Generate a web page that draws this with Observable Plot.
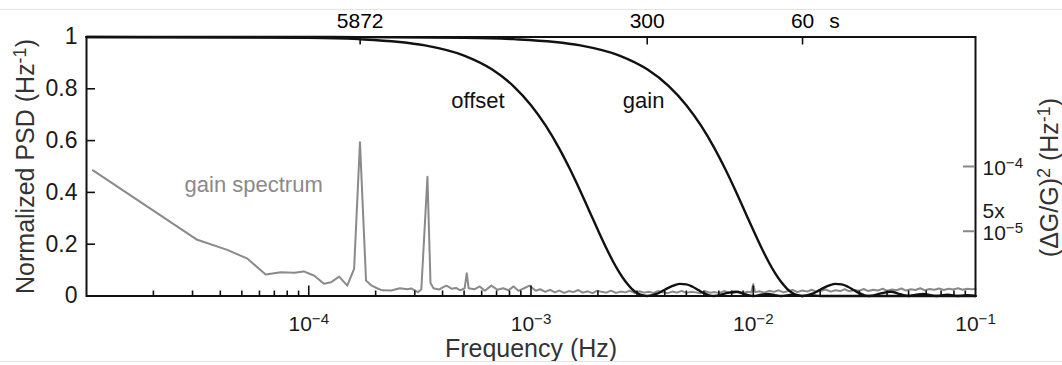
<!DOCTYPE html>
<html><head><meta charset="utf-8">
<script src="https://cdn.jsdelivr.net/npm/d3@7"></script>
<script src="https://cdn.jsdelivr.net/npm/@observablehq/plot@0.6"></script>
<style>
html,body{margin:0;padding:0;background:#fff;}
#wrap{position:relative;width:1062px;height:365px;overflow:hidden;}
#wrap .edge{position:absolute;left:0;width:1062px;height:1px;background:#e4e4e4;}
</style></head><body><div id="wrap"><div id="chart"></div><div class="edge" style="top:9px"></div><div class="edge" style="top:361px"></div></div>
<script>
// ---------- data ----------
// offset window response (300 s)
const offsetFreq = [1e-5, 1e-4, 1.667e-4, 3.333e-4, 5e-4, 6.667e-4, 8.333e-4, 1e-3, 1.1667e-3, 1.3333e-3,
  1.5e-3, 1.6667e-3, 1.8333e-3, 2e-3, 2.1667e-3, 2.3333e-3, 2.5e-3, 2.6667e-3, 2.8333e-3, 3e-3,
  3.1667e-3, 3.3333e-3, 3.6667e-3, 4e-3, 4.3333e-3, 4.6667e-3, 5e-3, 5.3333e-3, 5.6667e-3, 6e-3,
  6.3333e-3, 6.6667e-3, 7.5e-3, 8.3333e-3, 9.1667e-3, 1e-2, 1.0833e-2, 1.1667e-2, 1.25e-2, 1.3333e-2,
  1.5e-2, 1.6667e-2, 1.8333e-2, 2e-2, 1e-1];
const offsetPsd = [1, 0.997, 0.9918, 0.9675, 0.9282, 0.8751, 0.8106, 0.7368, 0.6566, 0.5728,
  0.4881, 0.4053, 0.3267, 0.2546, 0.1904, 0.1353, 0.0901, 0.0547, 0.0289, 0.0119,
  0.0028, 0, 0.0080, 0.0243, 0.0392, 0.0468, 0.0450, 0.0358, 0.0230, 0.0108,
  0.0027, 0, 0.0100, 0.0162, 0.0067, 0, 0.0048, 0.0083, 0.0036, 0,
  0.0050, 0, 0.0033, 0, 0];

// gain window response (60 s)
const gainFreq = [1e-5, 1e-4, 1.667e-4, 5e-4, 8.333e-4, 1.6667e-3, 2.5e-3, 3.3333e-3, 4.1667e-3, 5e-3,
  5.8333e-3, 6.6667e-3, 7.5e-3, 8.3333e-3, 9.1667e-3, 1e-2, 1.0833e-2, 1.1667e-2, 1.25e-2, 1.3333e-2,
  1.4167e-2, 1.5e-2, 1.5833e-2, 1.6667e-2, 1.8333e-2, 2e-2, 2.1667e-2, 2.3333e-2, 2.5e-2, 2.6667e-2,
  2.8333e-2, 3e-2, 3.1667e-2, 3.3333e-2, 3.75e-2, 4.1667e-2, 4.5833e-2, 5e-2, 5.4167e-2, 5.8333e-2,
  6.25e-2, 6.6667e-2, 7.5e-2, 8.3333e-2, 9.1667e-2, 1e-1];
const gainPsd = [1, 1, 0.9997, 0.997, 0.9918, 0.9675, 0.9282, 0.8751, 0.8106, 0.7368,
  0.6566, 0.5728, 0.4881, 0.4053, 0.3267, 0.2546, 0.1904, 0.1353, 0.0901, 0.0547,
  0.0289, 0.0119, 0.0028, 0, 0.0080, 0.0243, 0.0392, 0.0468, 0.0450, 0.0358,
  0.0230, 0.0108, 0.0027, 0, 0.0100, 0.0162, 0.0067, 0, 0.0048, 0.0083,
  0.0036, 0, 0.0050, 0, 0.0033, 0];

// measured gain spectrum (normalized units, right axis = x 2e-4)
const specFreq = [
  1.07e-5, 3.15e-5, 4.3e-5, 5.3e-5, 6.4e-5, 7.5e-5, 8.6e-5, 9.5e-5, 1.06e-4, 1.17e-4,
  1.26e-4, 1.37e-4, 1.49e-4, 1.60e-4, 1.70e-4, 1.81e-4, 1.92e-4, 2.03e-4, 2.14e-4, 2.35e-4,
  2.57e-4, 2.78e-4, 2.89e-4, 3.10e-4, 3.21e-4, 3.42e-4, 3.53e-4, 3.64e-4, 3.85e-4, 4.07e-4,
  4.17e-4, 4.39e-4, 4.60e-4, 4.81e-4, 5.03e-4, 5.14e-4, 5.24e-4, 5.56e-4, 5.88e-4, 6.20e-4,
  6.63e-4, 7.06e-4, 7.49e-4, 7.92e-4, 8.35e-4, 8.78e-4, 9.31e-4, 9.85e-4, 1.05e-3, 1.10e-3,
  1.16e-3, 1.22e-3, 1.28e-3, 1.34e-3, 1.41e-3, 1.48e-3, 1.55e-3, 1.63e-3, 1.71e-3, 1.8e-3,
  1.89e-3, 1.98e-3, 2.08e-3, 2.18e-3, 2.29e-3, 2.41e-3, 2.53e-3, 2.65e-3, 2.79e-3, 2.93e-3,
  3.07e-3, 3.23e-3, 3.39e-3, 3.56e-3, 3.73e-3, 3.92e-3, 4.12e-3, 4.32e-3, 4.54e-3, 4.76e-3,
  5.0e-3, 5.25e-3, 5.52e-3, 5.79e-3, 6.08e-3, 6.39e-3, 6.7e-3, 7.04e-3, 7.39e-3, 7.76e-3,
  8.15e-3, 8.56e-3, 8.99e-3, 9.44e-3, 9.8e-3,
  1.0e-2,
  1.02e-2, 1.07e-2, 1.12e-2, 1.18e-2, 1.24e-2, 1.30e-2, 1.37e-2, 1.44e-2, 1.51e-2, 1.58e-2,
  1.66e-2, 1.75e-2, 1.83e-2, 1.93e-2, 2.02e-2, 2.12e-2, 2.23e-2, 2.34e-2, 2.46e-2, 2.58e-2,
  2.71e-2, 2.85e-2, 2.99e-2, 3.14e-2, 3.30e-2, 3.46e-2, 3.64e-2, 3.82e-2, 4.01e-2, 4.21e-2,
  4.42e-2, 4.64e-2, 4.87e-2, 5.12e-2, 5.37e-2, 5.64e-2, 5.92e-2, 6.22e-2, 6.53e-2, 6.86e-2,
  7.20e-2, 7.56e-2, 7.94e-2, 8.34e-2, 8.75e-2, 9.19e-2, 9.65e-2, 1e-1];
const specPsd = [
  0.485, 0.217, 0.178, 0.144, 0.083, 0.092, 0.090, 0.095, 0.078, 0.047,
  0.053, 0.075, 0.040, 0.105, 0.594, 0.060, 0.040, 0.030, 0.022, 0.021,
  0.030, 0.026, 0.029, 0.015, 0.025, 0.460, 0.050, 0.030, 0.025, 0.036,
  0.040, 0.028, 0.031, 0.022, 0.030, 0.088, 0.030, 0.026, 0.037, 0.020,
  0.040, 0.024, 0.030, 0.022, 0.037, 0.020, 0.030, 0.040, 0.020, 0.026,
  0.016, 0.024, 0.014, 0.021, 0.012, 0.019, 0.015, 0.023, 0.013, 0.018,
  0.011, 0.020, 0.016, 0.013, 0.021, 0.012, 0.017, 0.014, 0.020, 0.011,
  0.018, 0.013, 0.016, 0.012, 0.019, 0.014, 0.011, 0.017, 0.013, 0.020,
  0.012, 0.016, 0.014, 0.011, 0.018, 0.013, 0.015, 0.012, 0.019, 0.014,
  0.011, 0.017, 0.013, 0.016, 0.014,
  0.045,
  0.015, 0.018, 0.013, 0.020, 0.016, 0.022, 0.014, 0.019, 0.023, 0.015,
  0.021, 0.017, 0.024, 0.016, 0.020, 0.025, 0.017, 0.022, 0.019, 0.026,
  0.018, 0.023, 0.020, 0.027, 0.019, 0.024, 0.021, 0.028, 0.020, 0.025,
  0.022, 0.029, 0.021, 0.026, 0.023, 0.030, 0.022, 0.027, 0.024, 0.029,
  0.023, 0.028, 0.025, 0.030, 0.024, 0.028, 0.026, 0.027];

// axes
const leftTicks = [0, 0.2, 0.4, 0.6, 0.8, 1];
const leftTickLabels = ["0", "0.2", "0.4", "0.6", "0.8", "1"];
const bottomDecades = [1e-5, 1e-4, 1e-3, 1e-2, 1e-1];
const bottomTickLabels = ["", "10^{−4}", "10^{−3}", "10^{−2}", "10^{−1}"];
const topPeriods = [5872, 300, 60];        // seconds
const topUnit = "s";
const rightMax = 2e-4;                     // (ΔG/G)² at normalized 1
const rightTicks = [1e-4, 5e-5];
const rightTickLabels = ["10^{−4}", "10^{−5}"];
const rightTickPrefix = ["", "5x"];

// annotations [label, frequency, normalized value]
const annLabels = ["offset", "gain", "gain spectrum"];
const annFreq = [5.77e-4, 3.21e-3, 5.65e-5];
const annValue = [0.755, 0.755, 0.427];
const annColor = ["#111", "#111", "#8a8a8a"];

// ---------- chart ----------
const W = 1062, H = 365;
const mL = 86, mR = 87, mT = 36.5, mB = 69.5;
const innerW = W - mL - mR, innerH = H - mT - mB;
const font = "'Liberation Sans', Arial, Helvetica, sans-serif";
const idx = a => d3.range(a.length);
const minorTicks = bottomDecades.slice(0, -1).flatMap(d => [2,3,4,5,6,7,8,9].map(m => m * d));
const ink = "#1a1a1a";

const chart = Plot.plot({
  width: W, height: H,
  marginLeft: mL, marginRight: mR, marginTop: mT, marginBottom: mB,
  style: {fontFamily: font, background: "white", color: ink, overflow: "visible"},
  x: {type: "log", domain: [1e-5, 1e-1], axis: null},
  y: {domain: [0, 1], axis: null},
  marks: [
    Plot.line(idx(specFreq), {x: i => specFreq[i], y: i => specPsd[i], stroke: "#8a8a8a", strokeWidth: 2, strokeLinejoin: "round"}),
    Plot.line(idx(offsetFreq), {x: i => offsetFreq[i], y: i => offsetPsd[i], curve: "monotone-x", stroke: "#111", strokeWidth: 2.4}),
    Plot.line(idx(gainFreq), {x: i => gainFreq[i], y: i => gainPsd[i], curve: "monotone-x", stroke: "#111", strokeWidth: 2.4}),
    Plot.frame({stroke: "#111", strokeWidth: 2}),
    // ticks (inward)
    Plot.tickY(leftTicks.slice(1, -1), {y: d => d, insetRight: innerW - 9, stroke: "#111", strokeWidth: 1.6}),
    Plot.tickX(bottomDecades.slice(1, -1), {x: d => d, insetTop: innerH - 10, stroke: "#111", strokeWidth: 1.6}),
    Plot.tickX(minorTicks, {x: d => d, insetTop: innerH - 5, stroke: "#111", strokeWidth: 1.6}),
    Plot.tickX(topPeriods, {x: p => 1 / p, insetBottom: innerH - 8, stroke: "#111", strokeWidth: 1.6}),
    Plot.tickY(rightTicks, {y: v => v / rightMax, insetLeft: innerW - 12, stroke: "#888", strokeWidth: 2}),
    // tick labels
    Plot.text(idx(leftTicks), {y: i => leftTicks[i], text: i => leftTickLabels[i], frameAnchor: "left", textAnchor: "end", dx: -9, fontSize: 23, fill: ink}),
    Plot.text(idx(bottomDecades), {x: i => bottomDecades[i], text: i => bottomTickLabels[i], frameAnchor: "bottom", lineAnchor: "bottom", dy: 34.5, fontSize: 21, fill: ink}),
    Plot.text(topPeriods, {x: p => 1 / p, text: p => String(p), frameAnchor: "top", lineAnchor: "bottom", dy: -9.5, fontSize: 21, fill: "#000"}),
    Plot.text([topUnit], {x: () => 1 / topPeriods[topPeriods.length - 1], frameAnchor: "top", lineAnchor: "bottom", dy: -9.5, dx: 32, fontSize: 21, fill: "#000"}),
    Plot.text(idx(rightTicks), {y: i => rightTicks[i] / rightMax, text: i => rightTickLabels[i], frameAnchor: "right", textAnchor: "start", dx: 7, dy: 2, fontSize: 21, fill: ink}),
    Plot.text(idx(rightTicks), {y: i => rightTicks[i] / rightMax, text: i => rightTickPrefix[i], frameAnchor: "right", textAnchor: "start", dx: 7, dy: -20, fontSize: 21, fill: ink}),
    // axis titles
    Plot.text(["Frequency (Hz)"], {frameAnchor: "bottom", textAnchor: "middle", lineAnchor: "bottom", dy: 61, fontSize: 25, fill: "#333"}),
    Plot.text(["Normalized PSD (Hz^{-1})"], {frameAnchor: "left", textAnchor: "middle", rotate: -90, lineAnchor: "bottom", dx: -53, fontSize: 25, fill: "#333"}),
    Plot.text(["(ΔG/G)^{2} (Hz^{-1})"], {frameAnchor: "right", textAnchor: "middle", rotate: -90, lineAnchor: "bottom", dx: 82, dy: 11, fontSize: 25, fill: "#333"}),
    // annotations
    Plot.text(idx(annLabels), {x: i => annFreq[i], y: i => annValue[i], text: i => annLabels[i], fill: i => annColor[i], fontSize: 22})
  ]
});

// superscripts: "a^{b}" -> tspans
d3.select(chart).selectAll("text, tspan").each(function() {
  if (this.children.length) return;
  const s = this.textContent;
  if (!s.includes("^{")) return;
  this.textContent = "";
  s.split(/\^\{([^}]*)\}/).forEach((p, i) => {
    if (!p) return;
    const t = document.createElementNS("http://www.w3.org/2000/svg", "tspan");
    t.textContent = p;
    if (i % 2) { t.setAttribute("baseline-shift", "45%"); t.setAttribute("font-size", "0.72em"); }
    this.appendChild(t);
  });
});

document.getElementById("chart").appendChild(chart);
</script>
</body></html>
